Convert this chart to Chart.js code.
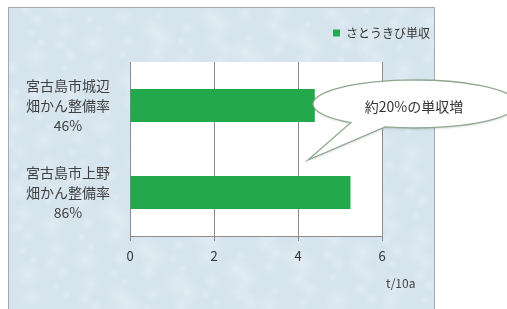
<!DOCTYPE html>
<html>
<head>
<meta charset="utf-8">
<script src="https://cdn.jsdelivr.net/npm/chart.js@4/dist/chart.umd.min.js"></script>
<style>
  html, body { margin: 0; padding: 0; background: #fff; }
  #wrap { position: relative; width: 507px; height: 309px; }
</style>
</head>
<body>
<div id="wrap"><canvas id="chart" width="507" height="309"></canvas></div>
<script>
// data
const categories = [
  ['宮古島市城辺', '畑かん整備率', '46%'],
  ['宮古島市上野', '畑かん整備率', '86%']
];
const seriesName = 'さとうきび単収';
const yields = [4.4, 5.25];
const xTicks = [0, 2, 4, 6];
const unitLabel = 't/10a';
const calloutText = '約20%の単収増';

const FONT = "'Noto Sans CJK JP', 'Noto Sans', sans-serif";
const GREEN = '#23a94b';

// background box + white plot area
const backdrop = {
  id: 'backdrop',
  beforeDraw(chart) {
    const { ctx, chartArea: a } = chart;
    ctx.save();
    ctx.fillStyle = '#ffffff';
    ctx.fillRect(0, 0, chart.width, chart.height);
    ctx.beginPath();
    ctx.rect(8, 7, 427, 302);
    ctx.clip();
    ctx.fillStyle = '#d6e4ee';
    ctx.fillRect(8, 7, 427, 302);
    // paper texture: evenly spread soft spots (R2 sequence)
    for (let i = 1; i <= 300; i++) {
      const x = 8 + ((i * 0.7548777) % 1) * 427;
      const y = 7 + ((i * 0.5698403) % 1) * 302;
      const r = 5 + (i % 4) * 3;
      const g = ctx.createRadialGradient(x, y, 0, x, y, r);
      g.addColorStop(0, 'rgba(236,243,248,0.45)');
      g.addColorStop(1, 'rgba(236,243,248,0)');
      ctx.fillStyle = g;
      ctx.fillRect(x - r, y - r, r * 2, r * 2);
    }
    ctx.strokeStyle = '#a9a9a9';
    ctx.lineWidth = 2;
    ctx.strokeRect(8, 7, 427, 310);
    ctx.fillStyle = '#ffffff';
    ctx.fillRect(a.left, a.top, a.right - a.left, a.bottom - a.top);
    ctx.restore();
  },
  afterDraw(chart) {
    const { ctx, chartArea: a } = chart;
    ctx.save();
    // unit label
    ctx.font = '12px ' + FONT;
    ctx.fillStyle = '#444';
    ctx.textAlign = 'left';
    ctx.textBaseline = 'middle';
    ctx.fillText(unitLabel, a.right + 4, 283);
    // callout bubble
    const cx = 415, cy = 104, rx = 102, ry = 24;
    const deg = Math.PI / 180;
    ctx.beginPath();
    ctx.ellipse(cx, cy, rx, ry, 0, 129 * deg, (107 + 360) * deg);
    ctx.lineTo(308, 160);
    ctx.closePath();
    ctx.shadowColor = 'rgba(0,0,0,0.18)';
    ctx.shadowBlur = 3;
    ctx.shadowOffsetY = 1;
    ctx.fillStyle = '#ffffff';
    ctx.fill();
    ctx.shadowColor = 'transparent';
    ctx.strokeStyle = '#8fa88f';
    ctx.lineWidth = 1.3;
    ctx.stroke();
    ctx.font = '14px ' + FONT;
    ctx.fillStyle = '#333';
    ctx.textAlign = 'center';
    ctx.fillText(calloutText, 414, 107);
    ctx.restore();
  }
};

new Chart(document.getElementById('chart'), {
  type: 'bar',
  data: {
    labels: categories,
    datasets: [{
      label: seriesName,
      data: yields,
      backgroundColor: GREEN,
      borderWidth: 0,
      categoryPercentage: 1,
      barPercentage: 0.38
    }]
  },
  options: {
    indexAxis: 'y',
    responsive: false,
    animation: false,
    layout: { padding: { top: 17, right: 67, bottom: 45, left: 8 } },
    plugins: {
      tooltip: { enabled: false },
      legend: {
        position: 'top',
        align: 'end',
        labels: {
          boxWidth: 7,
          boxHeight: 7,
          padding: 10,
          color: '#333',
          font: { family: FONT, size: 12 }
        }
      }
    },
    scales: {
      x: {
        min: 0,
        max: 6,
        afterBuildTicks: s => { s.ticks = xTicks.map(v => ({ value: v })); },
        afterFit: s => { s.height = 28; },
        grid: { color: '#8c8c8c', tickLength: 5, drawTicks: true },
        border: { color: '#8c8c8c' },
        ticks: { color: '#333', padding: 7, font: { family: FONT, size: 13 } }
      },
      y: {
        afterFit: s => { s.width = 122; },
        grid: { display: false, drawTicks: false },
        border: { display: true, color: '#8c8c8c' },
        ticks: {
          crossAlign: 'center',
          padding: 20,
          color: '#404040',
          font: { family: FONT, size: 14, lineHeight: 1.43 }
        }
      },
      top: {
        position: 'top',
        afterFit: s => { s.height = 13; },
        grid: { display: false },
        border: { display: false },
        ticks: { display: false }
      },
      right: {
        position: 'right',
        afterFit: s => { s.width = 58; },
        grid: { display: false },
        border: { display: false },
        ticks: { display: false }
      }
    }
  },
  plugins: [backdrop]
});
</script>
</body>
</html>
